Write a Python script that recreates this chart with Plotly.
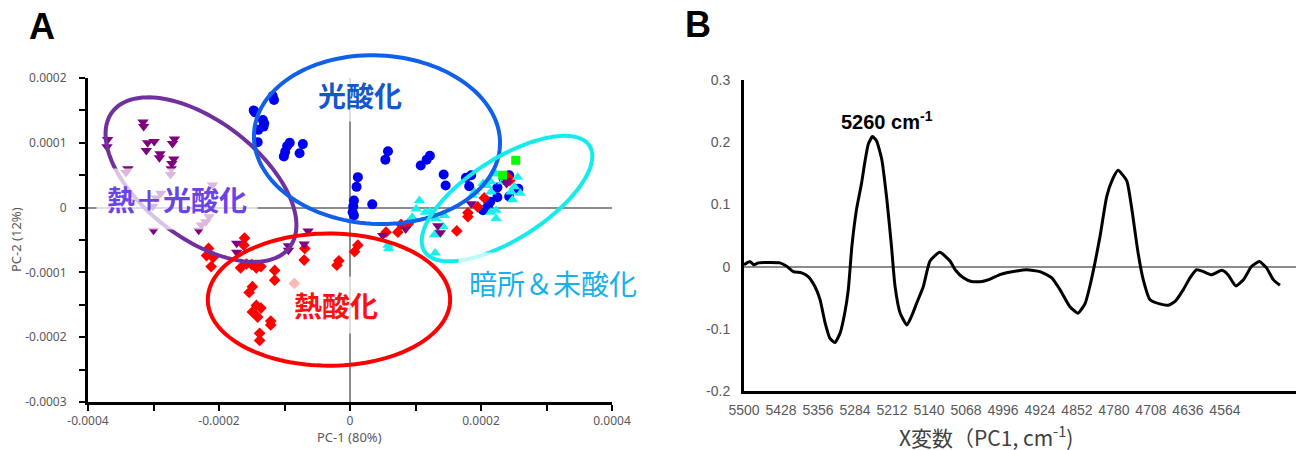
import numpy as np
import plotly.graph_objects as go

W, H = 1304, 450
OX, OY = 8, 8  # page body margin: the figure is drawn 8px right/down of the window corner
S = 1e-5  # score values below are given in units of 1e-5

# ---------------- Panel A : PCA scores ----------------
photo_x = [-11.8,-11.6,-14.7,-14.5,-13.3,-13.2,-14.0,-13.1,-14.1,-9.2,-9.6,-9.9,-10.1,-7.2,-7.7,
           5.8,5.4,12.2,11.7,10.8,14.3,14.6,1.2,1.0,0.6,0.5,0.4,0.6,3.4,17.7,18.5,18.2,22.5,22.5,
           21.1,20.3,21.4,24.3,25.7,24.3,23.5]
photo_y = [17.2,16.6,15.0,14.7,13.5,12.5,12.0,13.0,10.1,10.0,9.5,8.6,7.9,9.8,8.4,
           8.7,7.4,8.0,7.4,6.5,5.1,3.4,4.7,3.2,1.1,0.2,-0.7,-1.2,0.5,4.6,5.0,3.3,3.1,1.6,
           0.4,-0.4,0.9,1.7,2.9,5.0,4.3]

heat_x = [-16.1,-16.2,-21.6,-21.9,-20.9,-21.2,-16.7,-15.8,-15.0,-14.3,-13.6,-11.5,-11.5,-14.9,
          -15.4,-14.3,-13.6,-14.9,-14.1,-12.1,-12.1,-13.8,-13.8,-6.9,-7.0,-1.7,-2.0,-8.5,0.7,1.2,
          5.5,7.3,7.8,8.9,16.3,18.0,18.0,19.5,20.5,24.1,24.4]
heat_y = [-4.7,-5.8,-6.3,-7.4,-7.7,-9.1,-9.3,-8.7,-8.8,-9.3,-9.1,-9.7,-11.2,-12.2,
          -13.1,-15.1,-15.5,-16.1,-16.9,-17.5,-18.1,-19.4,-20.5,-6.3,-8.1,-8.2,-8.9,-11.7,-6.8,-5.8,
          -3.8,-3.8,-2.6,-2.5,-3.6,-0.8,-1.4,0.1,1.5,4.7,4.2]

heatphoto_x = [-31.6,-31.5,-37.0,-37.1,-30.9,-29.9,-31.1,-26.8,-27.1,-29.0,-29.1,-26.9,-27.2,-27.3,
               -27.4,-33.9,-34.2,-21.0,-28.9,-29.6,-30.1,-21.5,-22.0,-22.7,-30.0,-23.1,-17.3,-17.3,
               -9.4,-9.4,-7.0,-6.4,5.0,8.5,13.4,13.8,18.5,23.9,23.9]
heatphoto_y = [13.2,12.5,10.5,9.4,10.0,10.2,8.8,10.6,9.9,8.3,7.7,7.5,6.8,6.0,
               5.1,6.0,5.4,3.5,2.2,1.5,0.2,-1.4,-2.2,-2.7,-3.5,-3.5,-5.5,-6.9,
               -5.9,-6.6,-5.6,-3.6,-4.3,-3.3,-2.8,-3.9,0.6,4.2,3.7]

dark_x = [10.6,10.1,11.5,12.2,9.5,13.1,14.4,14.2,13.4,12.9,13.0,5.8,5.9,22.3,21.5,20.9,20.3,
          23.3,25.6,25.1,26.0,24.6,21.5,24.8,22.3,22.3,21.5,19.0,18.7]
dark_y = [1.1,-0.2,-0.7,-0.6,-1.5,-1.7,-1.2,-2.9,-3.7,-4.2,-7.0,-5.8,-6.3,5.2,4.0,3.4,3.7,
          4.0,4.7,3.2,2.2,2.4,2.4,1.2,-0.4,-1.7,-0.7,2.4,1.9]

ref_x = [25.3, 23.3]
ref_y = [7.3, 5.0]

a_xticks = [-0.0004, -0.0002, 0, 0.0002, 0.0004]
a_xtext = ["-0.0004", "-0.0002", "0", "0.0002", "0.0004"]
a_yticks = [-0.0003, -0.0002, -0.0001, 0, 0.0001, 0.0002]
a_ytext = ["-0.0003", "-0.0002", "-0.0001", "0", "0.0001", "0.0002"]

# ---------------- Panel B : PC1 loading ----------------
wavenumber = [5500,5488,5481,5472,5430,5417,5404,5388,5375,5362,5352,5342,5333,5323,5313,5304,
              5297,5290,5281,5271,5265,5258,5250,5242,5232,5222,5213,5206,5196,5183,5174,5164,
              5151,5138,5119,5099,5089,5073,5057,5037,5021,5002,4989,4976,4950,4924,4901,4885,
              4866,4850,4836,4827,4817,4807,4794,4783,4772,4755,4746,4733,4723,4710,4691,4674,
              4661,4645,4632,4619,4606,4590,4570,4558,4543,4528,4512,4497,4483,4470,4457]
loading = [0.003,0.008,0.003,0.006,0.006,0.0005,-0.008,-0.010,-0.016,-0.032,-0.053,-0.091,-0.115,
           -0.122,-0.107,-0.075,-0.037,0.033,0.092,0.135,0.167,0.197,0.209,0.202,0.173,0.108,
           0.033,-0.032,-0.075,-0.094,-0.080,-0.059,-0.032,0.009,0.023,0.009,-0.005,-0.018,
           -0.024,-0.024,-0.020,-0.013,-0.010,-0.008,-0.005,-0.008,-0.018,-0.037,-0.064,-0.075,
           -0.059,-0.032,0.006,0.049,0.113,0.140,0.155,0.138,0.097,0.022,-0.021,-0.053,-0.060,
           -0.062,-0.056,-0.037,-0.018,-0.005,-0.008,-0.013,-0.006,-0.013,-0.031,-0.021,0.0005,
           0.008,-0.002,-0.021,-0.030]
b_xticks = [5500,5428,5356,5284,5212,5140,5068,4996,4924,4852,4780,4708,4636,4564]
b_yticks = [-0.2, -0.1, 0, 0.1, 0.2, 0.3]
b_ytext = ["-0.2", "-0.1", "0", "0.1", "0.2", "0.3"]

# panel frames in window pixels
A_L, A_R, A_T, A_B = 88, 612, 78, 402
B_L, B_R, B_T, B_B = 744, 1302, 80, 391
A_XR = (-0.0004, 0.0004)
A_YR = (-0.0003, 0.0002)


def sc(v):
    return [t * S for t in v]


def fx(p):
    return (p - OX) / W


def fy(p):
    return 1 - (p - OY) / H


def a_to_paper(x, y):
    xp = A_L + (x - A_XR[0]) / (A_XR[1] - A_XR[0]) * (A_R - A_L)
    yp = A_B - (y - A_YR[0]) / (A_YR[1] - A_YR[0]) * (A_B - A_T)
    return fx(xp), fy(yp)


def ellipse_path(cx, cy, a, b, deg, n=140):
    t = np.linspace(0, 2 * np.pi, n)
    th = np.radians(deg)
    xs = cx + a * np.cos(t) * np.cos(th) - b * np.sin(t) * np.sin(th)
    ys = cy + a * np.cos(t) * np.sin(th) + b * np.sin(t) * np.cos(th)
    pts = [a_to_paper(x, y) for x, y in zip(xs, ys)]
    return "M " + " L ".join(f"{x:.5f},{y:.5f}" for x, y in pts) + " Z"


fig = go.Figure()
fig.add_trace(go.Scatter(x=sc(photo_x), y=sc(photo_y), mode="markers",
                         marker=dict(symbol="circle", size=10, color="#0000F0"), xaxis="x", yaxis="y"))
fig.add_trace(go.Scatter(x=sc(heat_x), y=sc(heat_y), mode="markers",
                         marker=dict(symbol="diamond", size=9, color="#FF0000"), xaxis="x", yaxis="y"))
fig.add_trace(go.Scatter(x=sc(dark_x), y=sc(dark_y), mode="markers",
                         marker=dict(symbol="triangle-up", size=10, color="#18F0F0"), xaxis="x", yaxis="y"))
fig.add_trace(go.Scatter(x=sc(heatphoto_x), y=sc(heatphoto_y), mode="markers",
                         marker=dict(symbol="triangle-down", size=10, color="#800080"), xaxis="x", yaxis="y"))
fig.add_trace(go.Scatter(x=sc(ref_x), y=sc(ref_y), mode="markers",
                         marker=dict(symbol="square", size=9, color="#00FF00"), xaxis="x", yaxis="y"))
fig.add_trace(go.Scatter(x=wavenumber, y=loading, mode="lines",
                         line=dict(color="black", width=3, shape="spline", smoothing=0.5),
                         xaxis="x2", yaxis="y2"))

shapes = []
for (cx, cy, a, b, deg, col) in [
    (-2.275e-4, 0.432e-4, 1.71e-4, 0.90e-4, -38, "#7030A0"),
    (0.412e-4, 1.049e-4, 1.88e-4, 1.30e-4, -3, "#1060E8"),
    (-0.321e-4, -1.420e-4, 1.85e-4, 1.02e-4, 0, "#FF0000"),
    (2.397e-4, 0.139e-4, 1.50e-4, 0.62e-4, 33, "#14ECEC"),
]:
    shapes.append(dict(type="path", path=ellipse_path(cx, cy, a, b, deg), xref="paper", yref="paper",
                       line=dict(color=col, width=4), fillcolor="rgba(0,0,0,0)", layer="above"))

annotations = []


def add_text(text, x, y, size, color, family="Noto Sans CJK JP", weight="normal", bg=None, angle=0,
             pad=0):
    d = dict(text=text, x=fx(x), y=fy(y), xref="paper", yref="paper", showarrow=False,
             xanchor="center", yanchor="middle", textangle=angle,
             font=dict(family=family, size=size, color=color, weight=weight), borderpad=pad)
    if bg:
        d["bgcolor"] = bg
    annotations.append(d)


BG = "rgba(255,255,255,0.72)"
add_text("光酸化", 360, 95, 28, "#1457CC", weight="bold", bg=BG, pad=6)
add_text("熱＋光酸化", 177, 199, 28, "#6A44E6", weight="bold", bg=BG, pad=10)
add_text("熱酸化", 336, 305, 28, "#FF1010", weight="bold", bg=BG, pad=8)
add_text("暗所＆未酸化", 553, 283, 28, "#16B0EA", weight="normal", bg=BG, pad=10)

add_text("PC-1 (80%)", 349, 437, 13, "#595959", family="Noto Sans")
add_text("PC-2 (12%)", 16, 240, 13, "#595959", family="Noto Sans", angle=-90)
add_text("A", 42, 26, 36, "black", family="Liberation Sans", weight="bold")
add_text("B", 698, 24, 36, "black", family="Liberation Sans", weight="bold")
add_text("5260 cm<sup>-1</sup>", 887, 120, 20, "black", family="Liberation Sans", weight="bold")
add_text("X変数（PC1, cm<sup>-1</sup>)", 986, 436, 21, "#404040", family="Noto Sans CJK JP")

fig.update_layout(
    width=W, height=H, margin=dict(l=0, r=0, t=0, b=0, pad=0, autoexpand=False),
    autosize=False,
    paper_bgcolor="white", plot_bgcolor="white", showlegend=False,
    shapes=shapes, annotations=annotations,
    xaxis=dict(domain=[fx(A_L), fx(A_R)], range=list(A_XR), anchor="y", automargin=False,
               tickvals=a_xticks, ticktext=a_xtext, showgrid=False,
               showline=True, linecolor="black", linewidth=3,
               ticks="outside", ticklen=6, tickwidth=2, tickcolor="black",
               minor=dict(tickvals=[-0.0003, -0.0001, 0.0001, 0.0003], ticks="outside",
                          ticklen=6, tickwidth=2, tickcolor="black"),
               zeroline=True, zerolinecolor="#8C8C8C", zerolinewidth=1.5,
               tickfont=dict(family="Noto Sans", size=12, color="#595959")),
    yaxis=dict(domain=[fy(A_B), fy(A_T)], range=list(A_YR), anchor="x",
               automargin=False,
               tickvals=a_yticks, ticktext=a_ytext, showgrid=False,
               showline=True, linecolor="black", linewidth=3,
               ticks="outside", ticklen=6, tickwidth=2, tickcolor="black",
               minor=dict(tickvals=[-0.00025, -0.00015, -0.00005, 0.00005, 0.00015],
                          ticks="outside", ticklen=6, tickwidth=2, tickcolor="black"),
               zeroline=True, zerolinecolor="#8C8C8C", zerolinewidth=1.5,
               ticklabelstandoff=10,
               tickfont=dict(family="Noto Sans", size=12, color="#595959")),
    xaxis2=dict(domain=[fx(B_L), fx(B_R)], range=[5500, 4414], anchor="y2", automargin=False,
                tickvals=b_xticks, ticktext=[str(v) for v in b_xticks], showgrid=False,
                showline=True, linecolor="black", linewidth=3, ticks="", zeroline=False,
                ticklabelstandoff=4,
                tickfont=dict(family="Liberation Sans", size=14, color="#595959")),
    yaxis2=dict(domain=[fy(B_B), fy(B_T)], range=[-0.2, 0.3], anchor="x2",
                automargin=False,
                tickvals=b_yticks, ticktext=b_ytext, showgrid=False,
                showline=True, linecolor="black", linewidth=3, ticks="",
                zeroline=True, zerolinecolor="#8C8C8C", zerolinewidth=1.5,
                ticklabelstandoff=8,
                tickfont=dict(family="Liberation Sans", size=14, color="#595959")),
)

fig.write_html("out.html")
